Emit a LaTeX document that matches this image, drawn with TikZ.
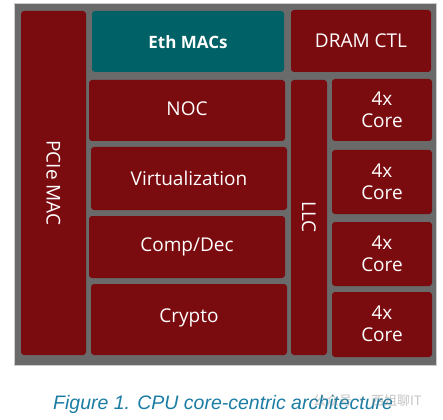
\documentclass[tikz,border=0pt]{standalone}
\usepackage{fontspec}
\setmainfont{Open Sans}
\newfontfamily\capfont{Liberation Sans}
\newfontfamily\cjkfont{Noto Sans CJK SC}
\definecolor{blockred}{HTML}{7A0C10}
\definecolor{bggray}{HTML}{6A6A6A}
\definecolor{ethteal}{HTML}{006166}
\definecolor{captionblue}{HTML}{1B7DA3}
\tikzset{
  blk/.style={fill=blockred, rounded corners=3pt, draw=none, text=white},
  lbl/.style={text=white, font=\fontsize{19}{23}\selectfont, align=center},
}
\begin{document}
\begin{tikzpicture}[x=1pt,y=-1pt]
\useasboundingbox (0,0) rectangle (443,419);
\fill[white] (0,0) rectangle (443,419);
\draw[draw=gray!40, fill=bggray, line width=0.8pt] (14,3) rectangle (436,365);
% blocks
\fill[blk] (21,11) rectangle (86,355);
\fill[blk, fill=ethteal] (92,11) rectangle (284,72);
\fill[blk] (291,10) rectangle (431,72);
\fill[blk] (89,80) rectangle (285,141);
\fill[blk] (91,147) rectangle (287,210);
\fill[blk] (89,216) rectangle (285,278);
\fill[blk] (91,284) rectangle (287,355);
\fill[blk] (291,80) rectangle (327,355);
\fill[blk] (332,79) rectangle (432,141);
\fill[blk] (332,150) rectangle (432,214);
\fill[blk] (332,222) rectangle (432,286);
\fill[blk] (332,292) rectangle (432,357);
% labels
\node[lbl, rotate=-90] (pcie) at (53.5,183) {PCIe MAC};
\node[lbl, font=\fontsize{17}{20}\selectfont\bfseries] (eth) at (188,42) {Eth MACs};
\node[lbl] (dram) at (361,41) {DRAM CTL};
\node[lbl] (noc) at (187,109) {NOC};
\node[lbl] (virt) at (189,178) {Virtualization};
\node[lbl] (comp) at (187,247) {Comp/Dec};
\node[lbl] (crypto) at (189,318) {Crypto};
\node[lbl, rotate=-90] (llc) at (309,217) {LLC};
\node[lbl, font=\fontsize{19}{22}\selectfont] (c1) at (382,110) {4x\\Core};
\node[lbl, font=\fontsize{19}{22}\selectfont] (c2) at (382,182) {4x\\Core};
\node[lbl, font=\fontsize{19}{22}\selectfont] (c3) at (382,254) {4x\\Core};
\node[lbl, font=\fontsize{19}{22}\selectfont] (c4) at (382,324) {4x\\Core};
% caption
\node[anchor=base west, inner sep=0pt, text=captionblue, font=\capfont\itshape\fontsize{19.5}{23}\selectfont] (cap) at (53,409) {Figure 1. CPU core-centric architecture};
\node[anchor=base west, inner sep=0pt, text=gray, opacity=0.45, font=\cjkfont\fontsize{13}{15}\selectfont] (wm) at (313,405) {公众号 · 西姐聊IT};
\end{tikzpicture}
\end{document}
